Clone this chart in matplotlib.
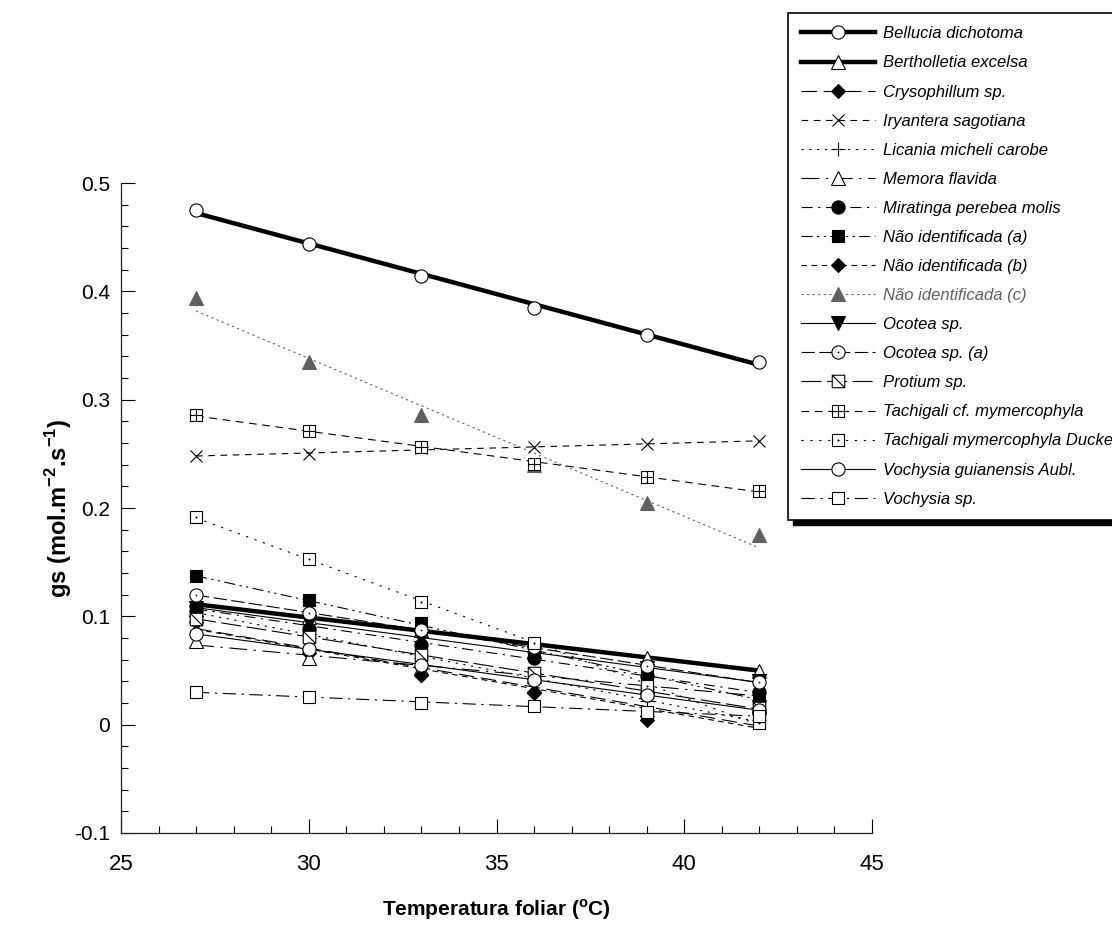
import numpy as np
import matplotlib
matplotlib.use('Agg')
import matplotlib.pyplot as plt
from matplotlib.path import Path
from matplotlib.lines import Line2D
from matplotlib.patches import Rectangle

plt.rcParams['font.family'] = ['Liberation Sans', 'DejaVu Sans']
plt.rcParams['mathtext.fontset'] = 'custom'
plt.rcParams['mathtext.rm'] = 'Liberation Sans'
plt.rcParams['mathtext.bf'] = 'Liberation Sans:bold'

# temperatura foliar (oC)
temperaturas = [27, 30, 33, 36, 39, 42]

# gs (mol.m-2.s-1) por especie
bellucia = [0.475, 0.444, 0.414, 0.385, 0.360, 0.335]
bertholletia = [0.111, 0.099, 0.087, 0.074, 0.062, 0.050]
crysophillum = [0.100, 0.066, 0.046, 0.030, 0.008, 0.012]
iryantera = [0.248, 0.250, 0.255, 0.256, 0.259, 0.262]
licania = [0.104, 0.084, 0.062, 0.042, 0.022, 0.004]
memora = [0.077, 0.062, 0.052, 0.045, 0.036, 0.028]
miratinga = [0.110, 0.088, 0.074, 0.062, 0.045, 0.030]
nao_a = [0.137, 0.115, 0.094, 0.065, 0.046, 0.024]
nao_b = [0.095, 0.070, 0.046, 0.029, 0.004, 0.010]
nao_c = [0.394, 0.335, 0.286, 0.240, 0.205, 0.175]
ocotea = [0.108, 0.095, 0.080, 0.066, 0.052, 0.040]
ocotea_a = [0.120, 0.103, 0.087, 0.072, 0.054, 0.039]
protium = [0.098, 0.081, 0.064, 0.048, 0.030, 0.015]
tachigali_cf = [0.286, 0.271, 0.256, 0.241, 0.229, 0.216]
tachigali_ducke = [0.192, 0.153, 0.113, 0.075, 0.036, 0.002]
vochysia_g = [0.084, 0.070, 0.055, 0.041, 0.027, 0.014]
vochysia_sp = [0.030, 0.026, 0.020, 0.017, 0.012, 0.008]

# marcadores especiais (quadrado com diagonal, com cruz, com ponto; circulo com ponto)
quad = Path([(-1, -1), (1, -1), (1, 1), (-1, 1), (-1, -1)],
            [Path.MOVETO, Path.LINETO, Path.LINETO, Path.LINETO, Path.CLOSEPOLY])
ponto = Path([(-0.12, 0), (0.12, 0), (0, -0.12), (0, 0.12)],
             [Path.MOVETO, Path.LINETO, Path.MOVETO, Path.LINETO])
diag = Path([(-1, 1), (1, -1)], [Path.MOVETO, Path.LINETO])
cruz = Path([(-1, 0), (1, 0), (0, -1), (0, 1)],
            [Path.MOVETO, Path.LINETO, Path.MOVETO, Path.LINETO])
quad_diag = Path.make_compound_path(quad, diag)
quad_cruz = Path.make_compound_path(quad, cruz)
quad_ponto = Path.make_compound_path(quad, ponto)
circ_ponto = Path.make_compound_path(Path.unit_circle(), ponto)

cinza = '#606060'

# (rotulo, valores, estilo linha, espessura, marcador, preenchimento, tamanho, cor)
series = [
    ('Bellucia dichotoma', bellucia, '-', 3.2, 'o', 'white', 9.5, 'black'),
    ('Bertholletia excelsa', bertholletia, '-', 3.2, '^', 'white', 9.5, 'black'),
    ('Crysophillum sp.', crysophillum, (0, (14, 6)), 0.8, 'D', 'black', 7, 'black'),
    ('Iryantera sagotiana', iryantera, (0, (6, 5)), 0.8, 'x', 'black', 9, 'black'),
    ('Licania micheli carobe', licania, (0, (2, 5)), 0.8, '+', 'black', 10, 'black'),
    ('Memora flavida', memora, (0, (16, 6, 2, 6)), 0.8, '^', 'white', 9.5, 'black'),
    ('Miratinga perebea molis', miratinga, (0, (10, 5, 2, 5)), 0.8, 'o', 'black', 9.5, 'black'),
    ('Não identificada (a)', nao_a, (0, (10, 4, 2, 4, 2, 4)), 0.8, 's', 'black', 9, 'black'),
    ('Não identificada (b)', nao_b, (0, (5, 4)), 0.8, 'D', 'black', 7, 'black'),
    ('Não identificada (c)', nao_c, (0, (2, 3)), 0.8, '^', cinza, 9.5, cinza),
    ('Ocotea sp.', ocotea, '-', 0.8, 'v', 'black', 9.5, 'black'),
    ('Ocotea sp. (a)', ocotea_a, (0, (12, 4)), 0.8, circ_ponto, 'white', 9.5, 'black'),
    ('Protium sp.', protium, (0, (18, 5)), 0.8, quad_diag, 'white', 9, 'black'),
    ('Tachigali cf. mymercophyla', tachigali_cf, (0, (7, 5)), 0.8, quad_cruz, 'white', 9, 'black'),
    ('Tachigali mymercophyla Ducke', tachigali_ducke, (0, (2, 6)), 0.8, quad_ponto, 'white', 9, 'black'),
    ('Vochysia guianensis Aubl.', vochysia_g, '-', 0.8, 'o', 'white', 9.5, 'black'),
    ('Vochysia sp.', vochysia_sp, (0, (12, 5, 2, 5)), 0.8, 's', 'white', 9, 'black'),
]

fig = plt.figure(figsize=(11.12, 9.42), dpi=100)
ax = fig.add_axes([121 / 1112, 109 / 942, 751 / 1112, 650 / 942])

x = np.array(temperaturas)
handles = []
for rotulo, valores, ls, lw, marcador, fc, ms, cor in series:
    # linha de tendencia linear
    a, b = np.polyfit(x, valores, 1)
    ax.plot(x[[0, -1]], a * x[[0, -1]] + b, linestyle=ls, linewidth=lw, color=cor, zorder=2)
    ax.plot(x, valores, linestyle='none', marker=marcador, markersize=ms,
            markerfacecolor=fc, markeredgecolor=cor, markeredgewidth=0.8, zorder=3)
    handles.append(Line2D([], [], linestyle=ls, linewidth=lw, color=cor, marker=marcador,
                          markersize=ms, markerfacecolor=fc, markeredgecolor=cor,
                          markeredgewidth=0.8, label=rotulo))

ax.set_xlim(25, 45)
ax.set_ylim(-0.1, 0.5)
ax.set_xticks([25, 30, 35, 40, 45])
ax.set_xticks(np.arange(25, 46, 1), minor=True)
ax.set_yticks([-0.1, 0, 0.1, 0.2, 0.3, 0.4, 0.5])
ax.set_yticklabels(['-0.1', '0', '0.1', '0.2', '0.3', '0.4', '0.5'])
ax.set_yticks(np.arange(-0.1, 0.501, 0.02), minor=True)
for lado in ['top', 'right']:
    ax.spines[lado].set_visible(False)
for lado in ['left', 'bottom']:
    ax.spines[lado].set_color('#222222')
    ax.spines[lado].set_linewidth(0.9)
ax.tick_params(which='major', direction='in', length=10, width=0.8)
ax.tick_params(which='minor', direction='in', length=5, width=0.8)
ax.tick_params(axis='x', which='major', labelsize=16, pad=15)
ax.tick_params(axis='y', which='major', labelsize=15, pad=8)

ax.set_xlabel('Temperatura foliar ($^{\\mathbf{o}}$C)', fontsize=15, fontweight='bold', labelpad=16)
ax.set_ylabel('gs (mol.m$^{\\mathbf{-2}}$.s$^{\\mathbf{-1}}$)', fontsize=17, fontweight='bold')
ax.yaxis.set_label_coords(-0.062, 0.5)

leg = fig.legend(handles=handles, loc='upper left', bbox_to_anchor=(788 / 1112, 1 - 13 / 942),
                 borderaxespad=0, prop={'family': 'Liberation Sans', 'style': 'italic', 'size': 12},
                 handlelength=4.4, handletextpad=0.5, labelspacing=0.845, borderpad=0.8,
                 numpoints=1, fancybox=False, framealpha=1)
leg.get_frame().set_edgecolor('black')
leg.get_frame().set_linewidth(1.2)
for txt, s in zip(leg.get_texts(), series):
    txt.set_color(s[7])

# sombra preta da legenda
fig.canvas.draw()
bb = leg.get_window_extent()
fig.patches.append(Rectangle(((bb.x0 + 5) / 1112, (bb.y0 - 5) / 942), bb.width / 1112, bb.height / 942,
                             transform=fig.transFigure, facecolor='black', edgecolor='black', zorder=4))

fig.savefig('out.png', dpi=100)
